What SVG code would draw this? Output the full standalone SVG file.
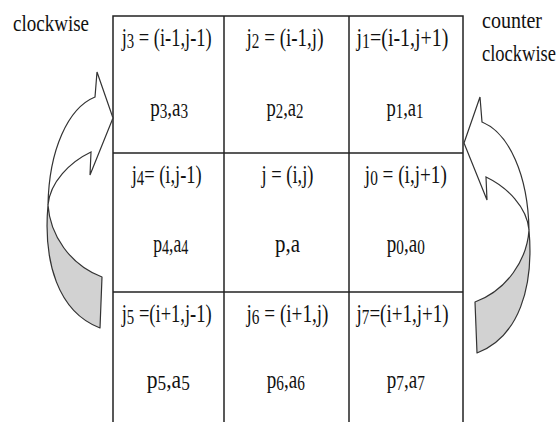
<svg xmlns="http://www.w3.org/2000/svg" xmlns:xlink="http://www.w3.org/1999/xlink" width="560" height="422" viewBox="0 0 560 422">
<style>
.t{font-family:"Liberation Serif","Times New Roman",serif;font-size:25px;fill:#111;text-anchor:middle}
.lbl{font-family:"Liberation Serif","Times New Roman",serif;font-size:23px;fill:#111}
.s{font-size:20px}
.grid{fill:none;stroke:#222;stroke-width:1.5}
.back{fill:#d2d2d2;stroke:#333;stroke-width:1.2;stroke-linejoin:round}
.front{fill:#fff;stroke:#333;stroke-width:1.2;stroke-linejoin:miter}
</style>
<defs>
<g id="curvedArrow">
<path class="back" d="M48,205 C43,262 58,312 100,328 L102,277 C70,265 50,235 48,205 Z"/>
<path class="front" d="M48,205 C49,150 68,108 95,97 L97,72 L113,118 L90,175 L91,152 C70,162 50,182 48,205 Z"/>
</g>
</defs>
<rect width="560" height="422" fill="#fff"/>
<g id="grid" class="grid">
<rect x="113" y="16" width="350" height="420"/>
<line x1="224" y1="16" x2="224" y2="436"/>
<line x1="349" y1="16" x2="349" y2="436"/>
<line x1="113" y1="153" x2="463" y2="153"/>
<line x1="113" y1="292" x2="463" y2="292"/>
</g>
<g id="connectors">
<g id="arrow-clockwise"><use xlink:href="#curvedArrow" href="#curvedArrow"/></g>
<g id="arrow-counterclockwise"><use xlink:href="#curvedArrow" href="#curvedArrow" transform="translate(577,25) scale(-1,1)"/></g>
</g>
<g id="label-clockwise"><text class="lbl" x="13" y="31" textLength="76" lengthAdjust="spacingAndGlyphs">clockwise</text></g>
<g id="label-counterclockwise">
<text class="lbl" x="482" y="28" textLength="60" lengthAdjust="spacingAndGlyphs">counter</text>
<text class="lbl" x="482" y="61" textLength="74" lengthAdjust="spacingAndGlyphs">clockwise</text>
</g>
<g id="cell-j3">
<text class="t" x="166.7" y="46" textLength="90" lengthAdjust="spacingAndGlyphs">j<tspan class="s" dy="2">3</tspan><tspan dy="-2"> = (i-1,j-1)</tspan></text>
<text class="t" x="169.2" y="116" textLength="38" lengthAdjust="spacingAndGlyphs">p<tspan class="s" dy="2">3</tspan><tspan dy="-2">,a</tspan><tspan class="s" dy="2">3</tspan></text>
</g>
<g id="cell-j2">
<text class="t" x="285" y="46" textLength="77" lengthAdjust="spacingAndGlyphs">j<tspan class="s" dy="2">2</tspan><tspan dy="-2"> = (i-1,j)</tspan></text>
<text class="t" x="285" y="116" textLength="37" lengthAdjust="spacingAndGlyphs">p<tspan class="s" dy="2">2</tspan><tspan dy="-2">,a</tspan><tspan class="s" dy="2">2</tspan></text>
</g>
<g id="cell-j1">
<text class="t" x="402.5" y="46" textLength="92" lengthAdjust="spacingAndGlyphs">j<tspan class="s" dy="2">1</tspan><tspan dy="-2">=(i-1,j+1)</tspan></text>
<text class="t" x="405" y="116" textLength="37" lengthAdjust="spacingAndGlyphs">p<tspan class="s" dy="2">1</tspan><tspan dy="-2">,a</tspan><tspan class="s" dy="2">1</tspan></text>
</g>
<g id="cell-j4">
<text class="t" x="166.7" y="183" textLength="70" lengthAdjust="spacingAndGlyphs">j<tspan class="s" dy="2">4</tspan><tspan dy="-2">= (i,j-1)</tspan></text>
<text class="t" x="170.8" y="252" textLength="35" lengthAdjust="spacingAndGlyphs">p<tspan class="s" dy="2">4</tspan><tspan dy="-2">,a</tspan><tspan class="s" dy="2">4</tspan></text>
</g>
<g id="cell-j">
<text class="t" x="287.5" y="183" textLength="52" lengthAdjust="spacingAndGlyphs">j = (i,j)</text>
<text class="t" x="287.5" y="252" textLength="25" lengthAdjust="spacingAndGlyphs">p,a</text>
</g>
<g id="cell-j0">
<text class="t" x="405.8" y="183" textLength="82" lengthAdjust="spacingAndGlyphs">j<tspan class="s" dy="2">0</tspan><tspan dy="-2"> = (i,j+1)</tspan></text>
<text class="t" x="405.8" y="252" textLength="38" lengthAdjust="spacingAndGlyphs">p<tspan class="s" dy="2">0</tspan><tspan dy="-2">,a</tspan><tspan class="s" dy="2">0</tspan></text>
</g>
<g id="cell-j5">
<text class="t" x="166.7" y="322" textLength="90" lengthAdjust="spacingAndGlyphs">j<tspan class="s" dy="2">5</tspan><tspan dy="-2"> =(i+1,j-1)</tspan></text>
<text class="t" x="168.3" y="388" textLength="43" lengthAdjust="spacingAndGlyphs">p<tspan class="s" dy="2">5</tspan><tspan dy="-2">,a</tspan><tspan class="s" dy="2">5</tspan></text>
</g>
<g id="cell-j6">
<text class="t" x="287.5" y="322" textLength="82" lengthAdjust="spacingAndGlyphs">j<tspan class="s" dy="2">6</tspan><tspan dy="-2"> = (i+1,j)</tspan></text>
<text class="t" x="285.8" y="388" textLength="38" lengthAdjust="spacingAndGlyphs">p<tspan class="s" dy="2">6</tspan><tspan dy="-2">,a</tspan><tspan class="s" dy="2">6</tspan></text>
</g>
<g id="cell-j7">
<text class="t" x="402.5" y="322" textLength="92" lengthAdjust="spacingAndGlyphs">j<tspan class="s" dy="2">7</tspan><tspan dy="-2">=(i+1,j+1)</tspan></text>
<text class="t" x="405.8" y="388" textLength="38" lengthAdjust="spacingAndGlyphs">p<tspan class="s" dy="2">7</tspan><tspan dy="-2">,a</tspan><tspan class="s" dy="2">7</tspan></text>
</g>
</svg>
